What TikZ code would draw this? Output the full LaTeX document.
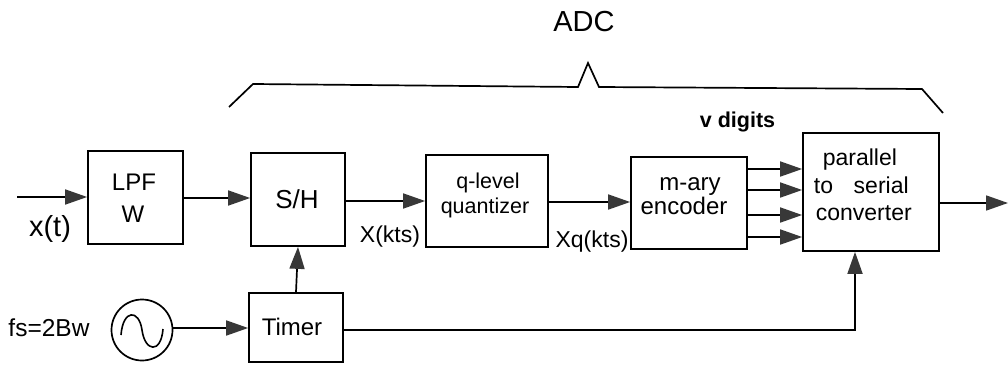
\documentclass[tikz,border=0pt]{standalone}
\usepackage{fontspec}
\setmainfont{Liberation Sans}
\usetikzlibrary{arrows.meta,calc}
\begin{document}
\begin{tikzpicture}[x=1pt,y=-1pt,
  line width=1.7pt,
  box/.style={draw,minimum width=#1,inner sep=0pt},
  arr/.style={-{Triangle[length=22pt,width=15pt,fill=black!78,color=black!78]}},
  txt/.style={anchor=base,inner sep=0pt,font=\fontsize{23}{27}\selectfont},
  txtq/.style={anchor=base,inner sep=0pt,font=\fontsize{21.5}{26}\selectfont}]
\useasboundingbox (0,0) rectangle (1008,369);
% boxes
\node[box=95pt,minimum height=93pt] (lpf) at (135.5,197.5) {};
\node[box=94pt,minimum height=93pt] (sh) at (298,199.5) {};
\node[box=122pt,minimum height=92pt] (quant) at (487,201) {};
\node[box=116pt,minimum height=92pt] (enc) at (689,203) {};
\node[box=136pt,minimum height=118pt] (conv) at (871,192) {};
\node[box=94pt,minimum height=69pt] (timer) at (296,327.5) {};
\node[draw,circle,minimum size=61pt,inner sep=0pt] (osc) at (142,330) {};
% texts
\node[txt,font=\fontsize{24}{28}\selectfont] (tlpf) at (134,190) {LPF};
\node[txt,font=\fontsize{24}{28}\selectfont] (tw) at (133,222) {W};
\node[txt,font=\fontsize{26}{30}\selectfont] (tsh) at (297,208) {S/H};
\node[txtq] (tq1) at (488,188) {q-level};
\node[txtq] (tq2) at (485,213) {quantizer};
\node[txt,font=\fontsize{24}{28}\selectfont] (te1) at (690,190) {m-ary};
\node[txt,font=\fontsize{24}{28}\selectfont] (te2) at (684,214) {encoder};
\node[txt,anchor=base west] (tc1) at (822,165) {parallel};
\node[txt,anchor=base west] (tc2) at (813,193) {to\hspace{0.9em}serial};
\node[txt,anchor=base west] (tc3) at (815,220) {converter};
\node[txt,font=\fontsize{24}{28}\selectfont] (ttimer) at (292,335) {Timer};
\node[txt,font=\fontsize{29}{33}\selectfont] (txt) at (50,236) {x(t)};
\node[txt,font=\fontsize{24.5}{28}\selectfont] (tfs) at (49,336) {fs=2Bw};
\node[txt] (txk) at (390,242) {X(kts)};
\node[txt] (txq) at (592,247) {Xq(kts)};
\node[txt,font=\fontsize{29}{33}\selectfont] (tadc) at (584,32) {ADC};
\node[txtq,font=\fontsize{21.5}{26}\selectfont\bfseries] (tv) at (737.5,127) {v digits};
% sine
\draw[line width=1.6pt] (121,335) .. controls (123,309) and (139,309) .. (142,330)
  .. controls (145,352) and (161,354) .. (163,329);
% connectors
\coordinate (in) at (17,197);
\coordinate (out) at (1008,203);
\draw[arr] (in) -- (lpf.west |- in);
\draw[arr] (lpf.east |- 0,198) -- (sh.west |- 0,198);
\draw[arr] (sh.east |- 0,201) -- (quant.west |- 0,201);
\draw[arr] (quant.east |- 0,202) -- (enc.west |- 0,202);
\foreach \yy in {169,190,215,237}
  \draw[arr] (enc.east |- 0,\yy) -- (conv.west |- 0,\yy);
\draw[arr] (conv.east |- out) -- (out);
\draw[arr] (osc.east |- 0,328) -- (timer.west |- 0,328);
\draw[arr] (timer.north) -- (sh.south);
\draw[arr] (timer.east |- 0,330) -| ([xshift=-16pt]conv.south);
% brace
\draw (229,107) -- (253,84) -- (578,87) -- (588,63) -- (599,87) -- (922,89) -- (943,113);
\end{tikzpicture}
\end{document}
